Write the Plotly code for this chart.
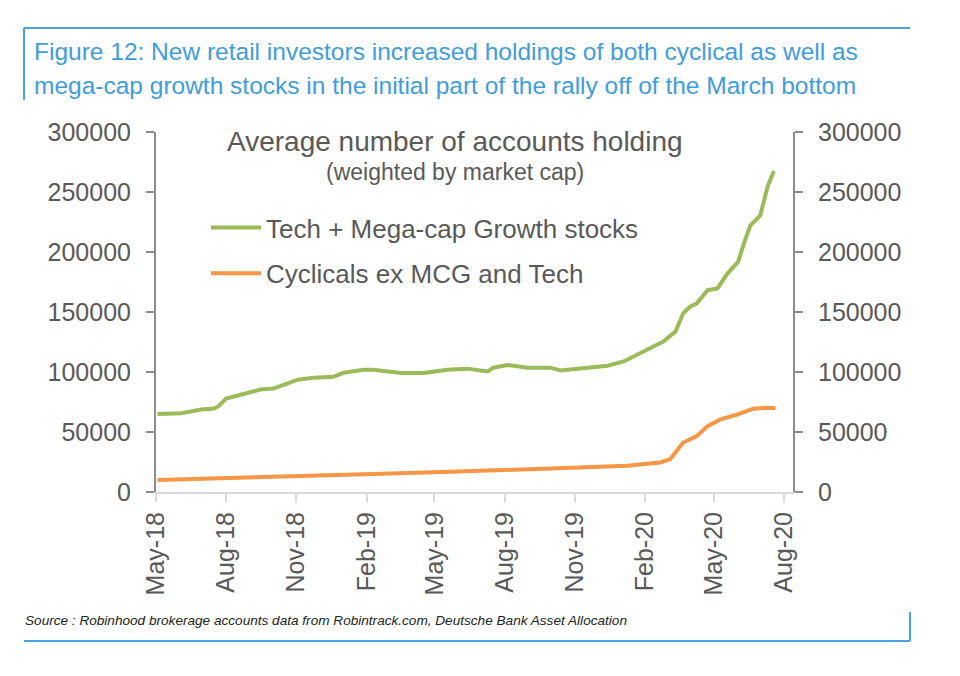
import plotly.graph_objects as go

# ---- data ----
tech_dates = ["2018-05-03", "2018-06-03", "2018-06-29", "2018-07-16", "2018-07-22", "2018-08-01",
              "2018-08-16", "2018-08-29", "2018-09-15", "2018-10-02", "2018-10-21", "2018-11-03",
              "2018-11-24", "2018-12-20", "2019-01-02", "2019-01-28", "2019-02-10", "2019-03-18",
              "2019-04-17", "2019-05-18", "2019-06-13", "2019-07-10", "2019-07-17", "2019-08-05",
              "2019-08-31", "2019-09-30", "2019-10-13", "2019-11-17", "2019-12-14", "2020-01-04",
              "2020-01-26", "2020-02-12", "2020-02-25", "2020-03-12", "2020-03-22", "2020-03-31",
              "2020-04-09", "2020-04-23", "2020-05-06", "2020-05-19", "2020-06-02", "2020-06-11",
              "2020-06-18", "2020-07-01", "2020-07-07", "2020-07-11", "2020-07-19"]
tech_values = [65000, 65700, 68800, 69600, 71500, 77900,
               80400, 82900, 85400, 86200, 90300, 93600,
               95300, 96100, 99400, 101900, 101900, 99200,
               99200, 101900, 102800, 100500, 103600, 105800,
               103600, 103600, 101300, 103600, 105200, 108800,
               116000, 121200, 125400, 133700, 148900, 154400,
               157200, 168200, 169600, 182000, 191700, 209700,
               222100, 230400, 245500, 255200, 267500]

cyc_dates = ["2018-05-03", "2018-10-02", "2019-02-10", "2019-05-22", "2019-10-21", "2020-01-09",
             "2020-02-21", "2020-03-05", "2020-03-22", "2020-04-09", "2020-04-23", "2020-05-10",
             "2020-06-01", "2020-06-22", "2020-07-10", "2020-07-21"]
cyc_values = [10000, 12200, 14900, 16800, 19900, 21800,
              24600, 27300, 41200, 46700, 54900, 60500,
              64600, 69400, 70200, 69800]

tick_dates = ["2018-05-01", "2018-08-01", "2018-11-01", "2019-02-01", "2019-05-01",
              "2019-08-01", "2019-11-01", "2020-02-01", "2020-05-01", "2020-08-01"]
tick_labels = ["May-18", "Aug-18", "Nov-18", "Feb-19", "May-19",
               "Aug-19", "Nov-19", "Feb-20", "May-20", "Aug-20"]
y_ticks = [0, 50000, 100000, 150000, 200000, 250000, 300000]

series_names = ["Tech + Mega-cap Growth stocks", "Cyclicals ex MCG and Tech"]

# ---- layout geometry (page has an 8px body margin) ----
OFF = 8
W, H = 960 - OFF, 676 - OFF
ML, MR, MT, MB = 156 - OFF, 167, 132 - OFF, 184
PW, PH = W - ML - MR, H - MT - MB


def px(x):
    return (x - OFF - ML) / PW


def py(y):
    return (H - MB - (y - OFF)) / PH


GREY = "#595959"
BLUE = "#3f9ddb"
FONT = "Liberation Sans, Arial, Helvetica, sans-serif"

fig = go.Figure()
fig.add_trace(go.Scatter(x=tech_dates, y=tech_values, mode="lines", name=series_names[0],
                         line=dict(color="#9bbb59", width=4), legendgroup="a"))
fig.add_trace(go.Scatter(x=cyc_dates, y=cyc_values, mode="lines", name=series_names[1],
                         line=dict(color="#f79646", width=4), legendgroup="b"))

axis_font = dict(family=FONT, size=25, color=GREY)

fig.update_layout(
    width=W, height=H,
    margin=dict(l=ML, r=MR, t=MT, b=MB),
    paper_bgcolor="white", plot_bgcolor="white",
    showlegend=True,
    legend=dict(x=px(206), y=py(204), xanchor="left", yanchor="top",
                font=dict(family=FONT, size=26, color=GREY),
                bgcolor="rgba(0,0,0,0)", itemwidth=50, tracegroupgap=9),
    xaxis=dict(range=["2018-05-01", "2020-08-13"], type="date",
               tickvals=tick_dates, ticktext=tick_labels, tickangle=-90,
               showline=True, linecolor="#d9d9d9", linewidth=2,
               ticks="outside", ticklen=8, tickcolor="#d9d9d9", tickwidth=2,
               showgrid=False, zeroline=False, tickfont=axis_font),
    yaxis=dict(range=[0, 300000], tickvals=y_ticks, tickformat="d",
               showline=True, linecolor="#8c8c8c", linewidth=2,
               ticks="outside", ticklen=8, tickcolor="#8c8c8c", tickwidth=2,
               showgrid=False, zeroline=False, tickfont=axis_font, ticklabelstandoff=10),
    yaxis2=dict(range=[0, 300000], tickvals=y_ticks, tickformat="d",
                overlaying="y", side="right", anchor="x",
                showline=True, linecolor="#8c8c8c", linewidth=2,
                ticks="outside", ticklen=8, tickcolor="#8c8c8c", tickwidth=2,
                showgrid=False, zeroline=False, tickfont=axis_font, ticklabelstandoff=10),
)

# mirror trace so the right axis is drawn
fig.add_trace(go.Scatter(x=tech_dates[:1], y=tech_values[:1], yaxis="y2", mode="lines",
                         showlegend=False, hoverinfo="skip", line=dict(width=0), opacity=0))

annotations = [
    dict(text="Figure 12: New retail investors increased holdings of both cyclical as well as",
         x=px(32), y=py(52), size=24.5, color=BLUE, anchor="left", italic=False),
    dict(text="mega-cap growth stocks in the initial part of the rally off of the March bottom",
         x=px(32), y=py(85), size=24.5, color=BLUE, anchor="left", italic=False),
    dict(text="Average number of accounts holding",
         x=px(455), y=py(141), size=28, color=GREY, anchor="center", italic=False),
    dict(text="(weighted by market cap)",
         x=px(455), y=py(172), size=23, color=GREY, anchor="center", italic=False),
    dict(text="Source : Robinhood brokerage accounts data from Robintrack.com, Deutsche Bank Asset Allocation",
         x=px(23), y=py(620), size=13.6, color="#222222", anchor="left", italic=True),
]
for a in annotations:
    txt = "<i>%s</i>" % a["text"] if a["italic"] else a["text"]
    fig.add_annotation(text=txt, x=a["x"], y=a["y"], xref="paper", yref="paper",
                       xanchor=a["anchor"], yanchor="middle", showarrow=False,
                       font=dict(family=FONT, size=a["size"], color=a["color"]))

border = dict(color="#4aa3dc", width=2)
for (x0, y0, x1, y1) in [(24, 28, 910, 28), (24, 28, 24, 100),
                          (24, 641, 910, 641), (910, 612, 910, 641)]:
    fig.add_shape(type="line", xref="paper", yref="paper",
                  x0=px(x0), y0=py(y0), x1=px(x1), y1=py(y1), line=border)

fig.write_html("out.html")
